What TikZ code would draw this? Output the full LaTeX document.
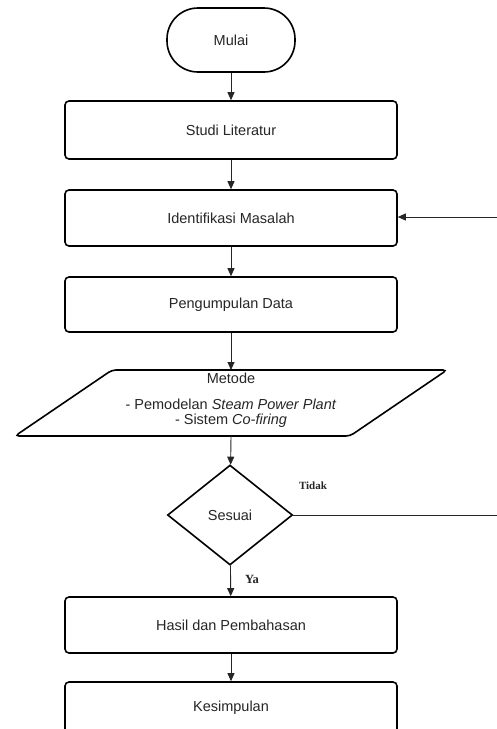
\documentclass[tikz,border=0pt]{standalone}
\usepackage{fontspec}
\setmainfont{Liberation Sans}
\newfontfamily\serifrm{Liberation Serif}
\usetikzlibrary{arrows.meta,shapes.geometric}
\begin{document}
\begin{tikzpicture}[x=1pt,y=-1pt,
  box/.style={draw=black, line width=1.6pt, rounded corners=4pt, minimum width=332pt, minimum height=56pt, inner sep=0pt, font=\fontsize{14.5}{17}\selectfont, text=black!85},
  term/.style={draw=black, line width=1.6pt, rounded corners=31pt, minimum width=128pt, minimum height=64pt, inner sep=0pt, font=\fontsize{14.5}{17}\selectfont, text=black!85},
  dec/.style={draw=black, line width=1.6pt, diamond, minimum width=125pt, minimum height=100pt, inner sep=0pt, font=\fontsize{14.5}{17}\selectfont, text=black!85},
  conn/.style={draw=black!85, line width=0.9pt},
  arr/.style={conn, -{Triangle[length=8pt,width=7pt]}},
  lbl/.style={font=\serifrm\bfseries\fontsize{12.5}{14}\selectfont, text=black!85}
]
\useasboundingbox (0,0) rectangle (497,729);
\clip (0,0) rectangle (497,729);
\fill[white] (0,0) rectangle (497,729);

\node[term] (mulai) at (231,40) {Mulai};
\node[box, minimum height=58pt] (studi) at (231,130) {Studi Literatur};
\node[box] (ident) at (231,218) {Identifikasi Masalah};
\node[box, minimum height=55pt] (data) at (231,304.5) {Pengumpulan Data};

% parallelogram for Metode
\draw[line width=1.6pt, rounded corners=4pt] (112,370) -- (447,370) -- (350,436) -- (15,436) -- cycle;
\coordinate (mtop) at (231,370);
\coordinate (mbot) at (231,436);
\node[align=center, inner sep=0pt, font=\fontsize{14.5}{15}\selectfont, text=black!85] (metode) at (231,400)
  {Metode\\[11pt]- Pemodelan \textit{Steam Power Plant}\\- Sistem \textit{Co-firing}};

\node[dec] (sesuai) at (230,515) {Sesuai};
\node[box] (hasil) at (231,625) {Hasil dan Pembahasan};
\node[box, minimum height=52pt] (kesim) at (231,708) {Kesimpulan};

\coordinate (fbin) at (497,217);
\coordinate (tdout) at (497,515);

\draw[arr] (mulai) -- (studi);
\draw[arr] (studi) -- (ident);
\draw[arr] (ident) -- (data);
\draw[arr] (data) -- (mtop);
\draw[arr] (mbot) -- (sesuai);
\draw[arr] (sesuai) -- (hasil);
\draw[arr] (hasil) -- (kesim);
\draw[arr] (fbin) -- (ident.east |- fbin);
\draw[conn] (sesuai.east) -- (tdout);

\node[lbl, font=\serifrm\bfseries\fontsize{11}{13}\selectfont] (tidak) at (313,486) {Tidak};
\node[lbl] (ya) at (252,579) {Ya};
\end{tikzpicture}
\end{document}
